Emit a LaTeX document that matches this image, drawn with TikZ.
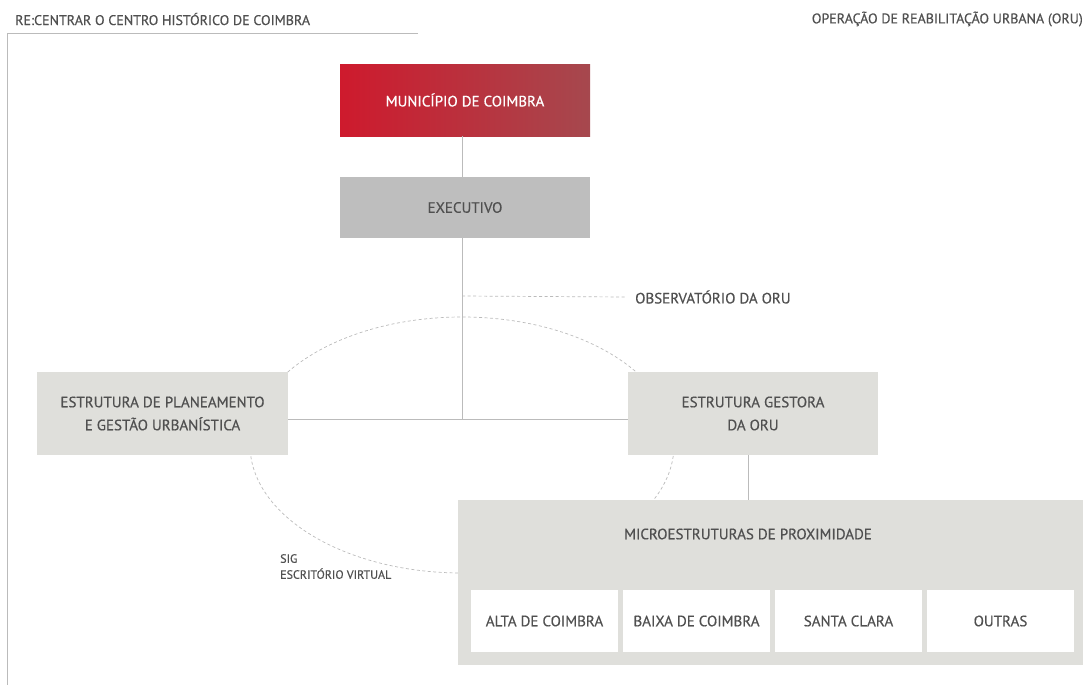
\documentclass[tikz,border=0pt]{standalone}
\usepackage{fontspec}
\setmainfont{PT Sans}[FakeBold=0.45]
\definecolor{txtgray}{HTML}{505050}
\definecolor{linegray}{HTML}{BBBBBB}
\definecolor{boxgray}{HTML}{BEBEBE}
\definecolor{boxlight}{HTML}{DFDFDB}
\definecolor{redleft}{HTML}{CE1A2D}
\definecolor{redright}{HTML}{A6484E}
\begin{document}
\begin{tikzpicture}[x=1pt,y=-1pt]
  \tikzstyle{caixa}=[rectangle, inner sep=0pt, text=txtgray, font=\fontsize{15}{23}\selectfont, align=center]
  \tikzstyle{linha}=[draw=linegray, line width=0.8pt]
  \tikzstyle{tracejado}=[draw=linegray, line width=0.7pt, dash pattern=on 3pt off 2.5pt]
  \tikzstyle{titulo}=[inner sep=0pt, text=txtgray, font=\fontsize{14}{16}\selectfont]
  \useasboundingbox (0,0) rectangle (1091,685);
  % moldura e titulos
  \draw[linha] (418,33) -- (7,33) -- (7,685);
  \node[titulo, anchor=west] (tit) at (15,19) {RE:CENTRAR O CENTRO HISTÓRICO DE COIMBRA};
  \node[titulo, anchor=east] (oru) at (1083,19) {OPERAÇÃO DE REABILITAÇÃO URBANA (ORU)};
  % elipse de ligacao
  \draw[tracejado] (462,445) ellipse [x radius=212, y radius=128];
  % caixas
  \node[caixa, left color=redleft, right color=redright, text=white, minimum width=250, minimum height=72] (mun) at (465,100) {MUNICÍPIO DE COIMBRA};
  \node[caixa, fill=boxgray, minimum width=250, minimum height=61] (exe) at (465,207.5) {EXECUTIVO};
  \node[caixa, fill=boxlight, minimum width=251, minimum height=83] (plan) at (162.5,413.5) {ESTRUTURA DE PLANEAMENTO\\E GESTÃO URBANÍSTICA};
  \node[caixa, fill=boxlight, minimum width=250, minimum height=83] (gest) at (753,413.5) {ESTRUTURA GESTORA\\DA ORU};
  \node[caixa, fill=boxlight, minimum width=625, minimum height=165] (micro) at (770.5,582.5) {};
  \node[caixa] (microtit) at (748,534) {MICROESTRUTURAS DE PROXIMIDADE};
  \foreach \n/\x/\t in {alta/544.5/ALTA DE COIMBRA,baixa/696.5/BAIXA DE COIMBRA,santa/848.5/SANTA CLARA,outras/1000.5/OUTRAS} {
    \node[caixa, fill=white, minimum width=147, minimum height=62] (\n) at (\x,621) {\t};
  }
  \node[titulo, anchor=north west, align=left, font=\fontsize{12}{16}\selectfont] (sig) at (280,554) {SIG\\ESCRITÓRIO VIRTUAL};
  \node[caixa, anchor=west] (obs) at (635,297) {OBSERVATÓRIO DA ORU};
  % ligacoes
  \coordinate (hub) at (462,419);
  \coordinate (obsfoot) at (462,296);
  \coordinate (desce) at (748,0);
  \draw[linha] (mun.south -| hub) -- (exe.north -| hub);
  \draw[linha] (exe.south -| hub) -- (hub);
  \draw[linha] (plan.east |- hub) -- (gest.west |- hub);
  \draw[tracejado] (obsfoot) -- ([xshift=-10pt]obs.west);
  \draw[linha] (gest.south -| desce) -- (micro.north -| desce);
\end{tikzpicture}
\end{document}
